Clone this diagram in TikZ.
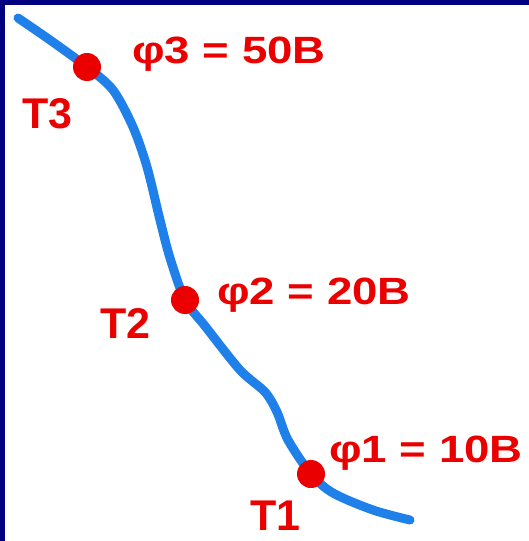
\documentclass[tikz,border=0pt]{standalone}
\usepackage{fontspec}
\setmainfont{Liberation Sans}
\usepackage{graphicx}
\definecolor{navy}{RGB}{0,0,128}
\definecolor{curveblue}{RGB}{30,128,232}
\definecolor{dotred}{RGB}{235,0,0}
\tikzset{
  dot/.style={circle,fill=dotred,inner sep=0pt,minimum size=28pt},
  potlabel/.style={anchor=base west,inner sep=0pt,text=dotred,font=\bfseries\fontsize{38}{38}\selectfont},
  ptlabel/.style={anchor=base west,inner sep=0pt,text=dotred,font=\bfseries\fontsize{43}{43}\selectfont},
  fieldline/.style={draw=curveblue,line width=9pt,line cap=round,line join=round}
}
\begin{document}
\begin{tikzpicture}[x=1pt,y=-1pt]
\useasboundingbox (0,0) rectangle (529,541);
\fill[white] (0,0) rectangle (529,541);
\fill[navy] (0,0) rectangle (529,5);
\fill[navy] (0,0) rectangle (5,541);
\coordinate (p3) at (87,67);
\coordinate (p2) at (185,300);
\coordinate (p1) at (311,474);
\draw[fieldline] plot[smooth,tension=0.5] coordinates {
  (18,18) (50,40) (p3) (113,90) (133,127) (147,167) (160,220) (170,258) (p2)
  (205,326) (240,370) (265,392) (277,412) (288,440) (p1) (333,493) (373,510) (410,520)};
\node[dot] (T3) at (p3) {};
\node[dot] (T2) at (p2) {};
\node[dot] (T1) at (p1) {};
\node[potlabel] (L3) at (132,63) {\scalebox{1.2}[1]{φ3 = 50В}};
\node[potlabel] (L2) at (217,304) {\scalebox{1.2}[1]{φ2 = 20В}};
\node[potlabel] (L1) at (329,462) {\scalebox{1.2}[1]{φ1 = 10В}};
\node[ptlabel] (N3) at (22,128) {Т3};
\node[ptlabel] (N2) at (100,338) {Т2};
\node[ptlabel] (N1) at (250,530) {Т1};
\end{tikzpicture}
\end{document}
